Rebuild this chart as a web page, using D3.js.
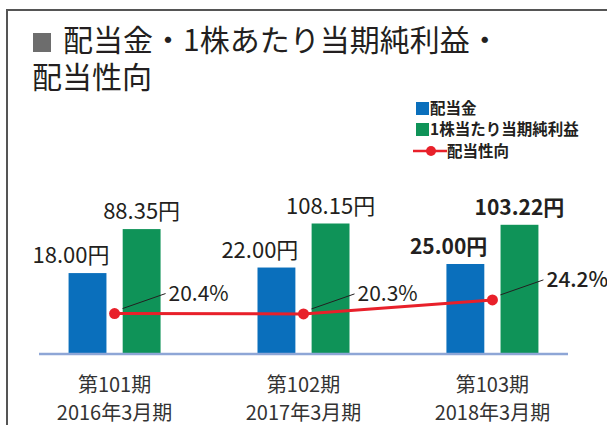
<!DOCTYPE html>
<html>
<head>
<meta charset="utf-8">
<script src="https://cdn.jsdelivr.net/npm/d3@7"></script>
<style>
  body { margin: 0; background: #fff; }
  svg { display: block; font-family: "Noto Sans CJK JP", "Noto Sans", sans-serif; }
</style>
</head>
<body>
<svg id="chart" width="607" height="425"></svg>
<script>
// data
const periods = ["第101期", "第102期", "第103期"];
const fiscalYears = ["2016年3月期", "2017年3月期", "2018年3月期"];
const dividend = [18.00, 22.00, 25.00];
const eps = [88.35, 108.15, 103.22];
const payoutRatio = [20.4, 20.3, 24.2];
const seriesNames = ["配当金", "1株当たり当期純利益", "配当性向"];
const titleLines = ["配当金・1株あたり当期純利益・", "配当性向"];

const colors = { dividend: "#0a6fbc", eps: "#0f9358", ratio: "#e8202a", text: "#231f20" };

const svg = d3.select("#chart");
const baseY = 353;

// frame
svg.append("path")
  .attr("d", "M7,425 V10 H607")
  .attr("fill", "none")
  .attr("stroke", "#555")
  .attr("stroke-width", 2);

// title
svg.append("rect")
  .attr("x", 33).attr("y", 33).attr("width", 18).attr("height", 19)
  .attr("fill", "#6d6d6d");
svg.append("text")
  .attr("x", 63).attr("y", 51)
  .attr("font-size", 30).attr("fill", colors.text)
  .text(titleLines[0]);
svg.append("text")
  .attr("x", 32).attr("y", 88)
  .attr("font-size", 30).attr("fill", colors.text)
  .text(titleLines[1]);

// scales
const x = d3.scalePoint().domain(periods).range([39, 568]).padding(0.4);
const x1 = d3.scaleBand().domain(["div", "eps"]).range([-46, 46]).paddingInner(0.3);
// bars are drawn on a log scale (as in the original)
const y = d3.scaleLog().domain([1, 1000]).range([baseY, baseY - 191]);
const yr = d3.scaleLinear().domain([10, 30]).range([351, 279]);

const g = svg.append("g");

// bars
g.selectAll(".bar-div").data(dividend).join("rect")
  .attr("class", "bar-div")
  .attr("x", (d, i) => x(periods[i]) + x1("div"))
  .attr("width", x1.bandwidth())
  .attr("y", d => y(d))
  .attr("height", d => baseY - y(d))
  .attr("fill", colors.dividend);

g.selectAll(".bar-eps").data(eps).join("rect")
  .attr("class", "bar-eps")
  .attr("x", (d, i) => x(periods[i]) + x1("eps"))
  .attr("width", x1.bandwidth())
  .attr("y", d => y(d))
  .attr("height", d => baseY - y(d))
  .attr("fill", colors.eps);

// axis line
svg.append("line")
  .attr("x1", 39).attr("x2", 568)
  .attr("y1", baseY + 1).attr("y2", baseY + 1)
  .attr("stroke", "#8ea6d6").attr("stroke-width", 2.5);

// value labels
g.selectAll(".lab-div").data(dividend).join("text")
  .attr("class", "lab-div")
  .attr("x", (d, i) => x(periods[i]) + x1("div") + x1.bandwidth() + 3)
  .attr("y", d => y(d) - 10)
  .attr("text-anchor", "end")
  .attr("font-size", (d, i) => i === 2 ? 21 : 22)
  .attr("font-weight", (d, i) => i === 2 ? 700 : 400)
  .attr("fill", colors.text)
  .text(d => d.toFixed(2) + "円");

g.selectAll(".lab-eps").data(eps).join("text")
  .attr("class", "lab-eps")
  .attr("x", (d, i) => x(periods[i]) + x1("eps") + x1.bandwidth() / 2)
  .attr("y", d => y(d) - 10)
  .attr("text-anchor", "middle")
  .attr("font-size", (d, i) => i === 2 ? 21 : 22)
  .attr("font-weight", (d, i) => i === 2 ? 700 : 400)
  .attr("fill", colors.text)
  .text(d => d.toFixed(2) + "円");

// payout ratio line
const line = d3.line()
  .x((d, i) => x(periods[i]))
  .y(d => yr(d));

g.append("path")
  .datum(payoutRatio)
  .attr("d", line)
  .attr("fill", "none")
  .attr("stroke", colors.ratio)
  .attr("stroke-width", 3);

// leader lines + ratio labels
g.selectAll(".leader").data(payoutRatio).join("line")
  .attr("class", "leader")
  .attr("x1", (d, i) => x(periods[i]) + 8)
  .attr("y1", d => yr(d) - 5)
  .attr("x2", (d, i) => x(periods[i]) + 51)
  .attr("y2", d => yr(d) - 20)
  .attr("stroke", "#231f20")
  .attr("stroke-width", 1);

g.selectAll(".lab-ratio").data(payoutRatio).join("text")
  .attr("class", "lab-ratio")
  .attr("x", (d, i) => x(periods[i]) + 54)
  .attr("y", d => yr(d) - 13)
  .attr("font-size", 21)
  .attr("font-weight", (d, i) => i === 2 ? 500 : 400)
  .attr("fill", colors.text)
  .text(d => d.toFixed(1) + "%");

g.selectAll(".dot").data(payoutRatio).join("circle")
  .attr("class", "dot")
  .attr("cx", (d, i) => x(periods[i]))
  .attr("cy", d => yr(d))
  .attr("r", 5.5)
  .attr("fill", colors.ratio);

// category labels
const cat = svg.append("g");
cat.selectAll(".cat1").data(periods).join("text")
  .attr("class", "cat1")
  .attr("x", d => x(d))
  .attr("y", 392)
  .attr("text-anchor", "middle")
  .attr("font-size", 20)
  .attr("fill", "#333")
  .text(d => d);
cat.selectAll(".cat2").data(fiscalYears).join("text")
  .attr("class", "cat2")
  .attr("x", (d, i) => x(periods[i]))
  .attr("y", 420)
  .attr("text-anchor", "middle")
  .attr("font-size", 20)
  .attr("fill", "#333")
  .text(d => d);

// legend
const legend = svg.append("g").attr("transform", "translate(416,0)");
const legRows = [108.5, 129.5, 151];
legend.append("rect").attr("x", 0).attr("y", legRows[0] - 6.5).attr("width", 13).attr("height", 13).attr("fill", colors.dividend);
legend.append("rect").attr("x", 0).attr("y", legRows[1] - 6.5).attr("width", 13).attr("height", 13).attr("fill", colors.eps);
legend.append("line").attr("x1", -3).attr("x2", 31).attr("y1", legRows[2]).attr("y2", legRows[2])
  .attr("stroke", colors.ratio).attr("stroke-width", 2.5);
legend.append("circle").attr("cx", 15).attr("cy", legRows[2]).attr("r", 5).attr("fill", colors.ratio);
legend.selectAll(".leg-text").data(seriesNames).join("text")
  .attr("class", "leg-text")
  .attr("x", (d, i) => i === 2 ? 31 : 14)
  .attr("y", (d, i) => legRows[i] + 5.5)
  .attr("font-size", 15.5)
  .attr("font-weight", 700)
  .attr("fill", colors.text)
  .text(d => d);
</script>
</body>
</html>
